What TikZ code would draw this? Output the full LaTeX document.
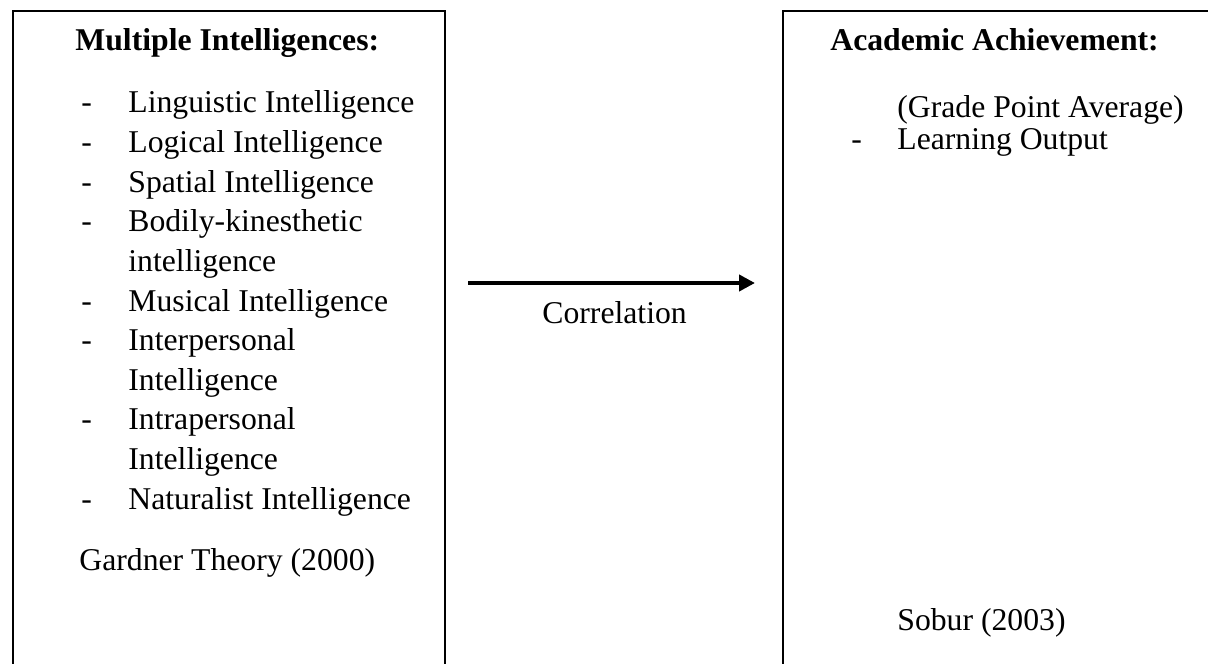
\documentclass[tikz,border=0pt]{standalone}
\usepackage{fontspec}
\setmainfont{Liberation Serif}
\usetikzlibrary{arrows.meta}
\begin{document}
\begin{tikzpicture}[x=0.5pt,y=-0.5pt,
  txt/.style={anchor=base west,inner sep=0pt,font=\fontsize{15.85}{19}\selectfont},
  head/.style={txt,font=\fontsize{15.85}{19}\selectfont\bfseries},
  boxline/.style={draw=black,line width=1pt},
  conn/.style={line width=2.4pt,-{Triangle[length=8pt,width=8pt]}}]
\useasboundingbox (0,0) rectangle (1208,663);
\clip (0,0) rectangle (1208,663);
% boxes
\node[boxline,anchor=north west,minimum width=432pt*0.5,minimum height=700pt*0.5,inner sep=0pt] (leftbox) at (12,10) {};
\node[boxline,anchor=north west,minimum width=500pt*0.5,minimum height=700pt*0.5,inner sep=0pt] (rightbox) at (782,10) {};
% left content
\node[head] (lh) at (75,51) {Multiple Intelligences:};
\node[txt] (d1) at (81,113) {-};   \node[txt] (t1) at (128,113) {Linguistic Intelligence};
\node[txt] (d2) at (81,152.6) {-}; \node[txt] (t2) at (128,152.6) {Logical Intelligence};
\node[txt] (d3) at (81,192.2) {-}; \node[txt] (t3) at (128,192.2) {Spatial Intelligence};
\node[txt] (d4) at (81,231.8) {-}; \node[txt] (t4) at (128,231.8) {Bodily-kinesthetic};
\node[txt] (t4b) at (128,271.4) {intelligence};
\node[txt] (d5) at (81,311) {-};   \node[txt] (t5) at (128,311) {Musical Intelligence};
\node[txt] (d6) at (81,350.6) {-}; \node[txt] (t6) at (128,350.6) {Interpersonal};
\node[txt] (t6b) at (128,390.2) {Intelligence};
\node[txt] (d7) at (81,429.8) {-}; \node[txt] (t7) at (128,429.8) {Intrapersonal};
\node[txt] (t7b) at (128,469.4) {Intelligence};
\node[txt] (d8) at (81,509) {-};   \node[txt] (t8) at (128,509) {Naturalist Intelligence};
\node[txt] (gard) at (79,570) {Gardner Theory (2000)};
% right content
\node[head] (rh) at (830,51) {Academic Achievement:};
\node[txt] (gpa) at (897,118) {(Grade Point Average)};
\node[txt] (rd1) at (851,150) {-}; \node[txt] (lo) at (897,150) {Learning Output};
\node[txt] (sob) at (897,630) {Sobur (2003)};
% connector
\coordinate (as) at (468,283);
\coordinate (ae) at (755,283);
\draw[conn] (as) -- (ae);
\node[txt] (corr) at (542,323) {Correlation};
\end{tikzpicture}
\end{document}
